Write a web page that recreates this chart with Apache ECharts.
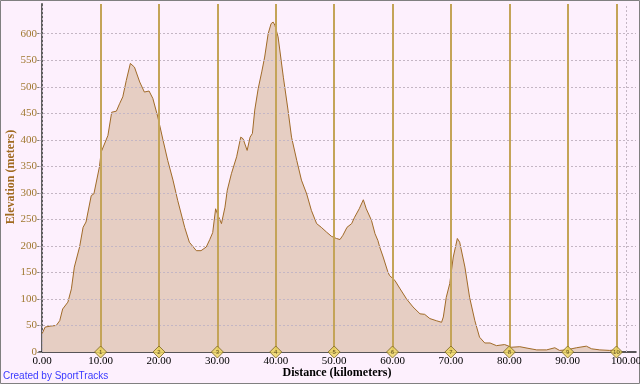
<!DOCTYPE html>
<html>
<head>
<meta charset="utf-8">
<script src="https://cdn.jsdelivr.net/npm/echarts@6/dist/echarts.min.js"></script>
<style>
html,body{margin:0;padding:0;background:#fdf0fd;}
#c{width:640px;height:384px;}
</style>
</head>
<body>
<div id="c"></div>
<script>
var distanceKm = [0.0,0.5,1.5,2.4,3.0,3.5,4.4,5.0,5.5,6.4,7.0,7.5,8.4,8.85,9.8,10.1,11.25,11.9,12.7,13.25,13.8,14.4,15.1,15.8,16.7,17.5,18.3,18.95,19.8,20.7,21.5,22.4,23.2,24.4,25.2,26.4,27.2,28.1,28.7,29.2,29.7,30.1,30.7,31.3,31.7,32.4,33.3,34.0,34.4,35.1,35.6,36.0,36.4,37.0,37.6,38.1,38.7,39.2,39.55,39.85,40.4,41.3,42.1,42.7,43.6,44.4,45.3,46.1,47.0,47.8,48.7,49.55,50.4,51.0,51.5,52.2,53.0,53.5,54.3,55.0,55.5,56.4,57.0,57.5,57.8,58.4,59.2,59.5,60.4,61.3,62.4,63.5,64.7,65.5,66.4,67.5,68.4,68.7,69.2,69.8,70.4,71.1,71.5,72.4,73.2,74.1,74.9,75.8,76.7,77.8,79.2,80.4,81.8,83.2,84.7,86.4,87.8,88.6,89.8,91.5,93.2,94.1,95.5,97.2,98.35];
var elevationM = [35,47,49,50,59,81,94,119,160,198,235,245,295,298,349,377,408,452,454,468,481,512,544,537,509,490,492,478,443,399,361,324,286,235,207,191,191,198,212,225,270,258,242,273,305,336,368,405,402,380,405,412,456,497,528,556,600,619,622,616,594,518,456,405,361,324,298,267,242,235,226,218,214,212,220,235,242,254,270,287,270,248,223,210,198,179,151,144,135,119,100,85,72,71,63,59,56,66,103,129,179,214,207,160,103,59,28,17,17,12,14,9,10,7,4,4,8,3,4,8,11,6,4,3,4];
var kmMarkers = [10,20,30,40,50,60,70,80,90,98.35];
var xTicks = [0,10,20,30,40,50,60,70,80,90,100];
var yTicks = [0,50,100,150,200,250,300,350,400,450,500,550,600];
var xTitle = 'Distance (kilometers)';
var yTitle = 'Elevation (meters)';

var profile = distanceKm.map(function(d,i){return [d, elevationM[i]];});
var gridDash = {color:'#c4b6c4', type:[2,2], width:1};

var chart = echarts.init(document.getElementById('c'), null, {renderer:'canvas'});
chart.setOption({
  backgroundColor:'#fdf0fd',
  animation:false,
  grid:{left:39, right:4, top:4, bottom:32, containLabel:false, outerBoundsMode:'none'},
  xAxis:{
    type:'value', min:-0.55, max:101.7,
    axisLine:{show:true, onZero:false, lineStyle:{color:'#202020', width:1.5}},
    axisTick:{show:false, customValues:xTicks},
    axisLabel:{customValues:xTicks, margin:4, fontFamily:'Liberation Serif', fontSize:11, color:'#000',
      formatter:function(v){return v.toFixed(2);}},
    splitLine:{show:false}
  },
  yAxis:{
    type:'value', min:0, max:656, interval:50,
    axisLine:{show:true, lineStyle:{color:'#606060', width:2}},
    axisTick:{show:true, customValues:yTicks, length:5, lineStyle:{color:'#808080'}},
    axisLabel:{customValues:yTicks, margin:2, fontFamily:'Liberation Serif', fontSize:11, color:'#a07830',
      formatter:function(v){return v>600?'':String(v);}},
    splitLine:{show:false}
  },
  series:[
    {
      type:'line', data:profile, symbol:'none', z:2,
      lineStyle:{color:'#a06a28', width:1},
      areaStyle:{color:'#e6cec3', opacity:1}
    },
    {
      type:'line', data:[], z:3, symbol:'none',
      markLine:{
        silent:true, symbol:'none', label:{show:false},
        lineStyle:gridDash,
        data: yTicks.filter(function(v){return v>0;}).map(function(v){return {yAxis:v};})
          .concat(xTicks.map(function(v){return {xAxis:v};}))
      }
    },
    {
      type:'scatter', z:5,
      data:kmMarkers.map(function(d,i){return {value:[d,0], name:String(i+1)};}),
      symbol:'diamond', symbolSize:[12,12],
      itemStyle:{color:'#ecd45c', borderColor:'#7a6420', borderWidth:1},
      label:{show:true, position:'inside', formatter:function(p){return p.name;}, fontSize:6, color:'#403010', fontFamily:'Liberation Sans'},
      markLine:{
        silent:true, symbol:'none', label:{show:false},
        lineStyle:{color:'#c4a458', type:'solid', width:2},
        data: kmMarkers.map(function(d){return {xAxis:d};})
      }
    }
  ],
  graphic:[
    {type:'text', x:337, y:373, style:{text:xTitle, fill:'#000', font:'bold 12px "Liberation Serif"', align:'center', verticalAlign:'middle'}},
    {type:'text', x:11, y:177, rotation:Math.PI/2, style:{text:yTitle, fill:'#a06a20', font:'bold 12px "Liberation Serif"', align:'center', verticalAlign:'middle'}},
    {type:'text', left:3, top:371, style:{text:'Created by SportTracks', fill:'#3a3aff', font:'10px "Liberation Sans"'}},
    {type:'rect', shape:{x:0.5, y:0.5, width:639, height:383}, style:{fill:null, stroke:'#808080', lineWidth:1}, silent:true}
  ]
});
</script>
</body>
</html>
